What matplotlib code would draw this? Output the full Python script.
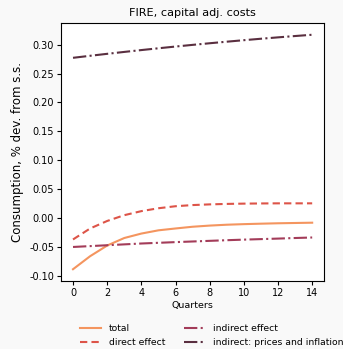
import matplotlib
matplotlib.use("Agg")
import matplotlib.pyplot as plt
import numpy as np

quarters = np.arange(15)

total = [-0.0885, -0.066, -0.0475, -0.0345, -0.0268, -0.0212, -0.018, -0.015,
         -0.013, -0.0115, -0.0105, -0.0097, -0.009, -0.0085, -0.008]
direct = [-0.037, -0.018, -0.005, 0.005, 0.012, 0.017, 0.0205, 0.0225,
          0.0237, 0.0245, 0.025, 0.0253, 0.0255, 0.0255, 0.0255]
indirect = [-0.050, -0.0485, -0.047, -0.0455, -0.044, -0.0428, -0.0416, -0.0405,
            -0.0394, -0.0383, -0.0373, -0.0364, -0.0355, -0.0345, -0.0336]
prices_inflation = [0.2773, 0.2808, 0.2842, 0.2875, 0.2907, 0.2938, 0.2968, 0.2997,
                    0.3025, 0.3052, 0.3078, 0.3103, 0.3127, 0.3150, 0.3172]

fig = plt.figure(figsize=(3.43, 3.49), dpi=100, facecolor="#f9f9f9")
ax = fig.add_axes([0.178, 0.195, 0.767, 0.739])
ax.set_facecolor("white")

ax.plot(quarters, total, color="#f4955f", lw=1.5, ls="-", label="total")
ax.plot(quarters, direct, color="#dd5448", lw=1.5, ls=(0, (3.5, 2)), label="direct effect")
ax.plot(quarters, indirect, color="#a33c59", lw=1.5, ls="-.", label="indirect effect")
ax.plot(quarters, prices_inflation, color="#5a2f40", lw=1.5, ls="-.",
        label="indirect: prices and inflation")

ax.set_title("FIRE, capital adj. costs", fontsize=8.1, pad=5)
ax.set_xlabel("Quarters", fontsize=6.8, labelpad=2)
ax.set_ylabel("Consumption, % dev. from s.s.", fontsize=8.5)
ax.set_xticks(range(0, 15, 2))
ax.set_yticks(np.arange(-0.10, 0.31, 0.05))
ax.tick_params(labelsize=7, length=3, pad=2)
ax.yaxis.set_major_formatter(matplotlib.ticker.FormatStrFormatter("%.2f"))

fig.legend(loc="upper left", bbox_to_anchor=(0.209, 0.095), ncol=2, frameon=False,
           fontsize=6.7, handlelength=2.3, columnspacing=2.0, labelspacing=0.5)

fig.savefig("out.png", dpi=100, facecolor=fig.get_facecolor())
